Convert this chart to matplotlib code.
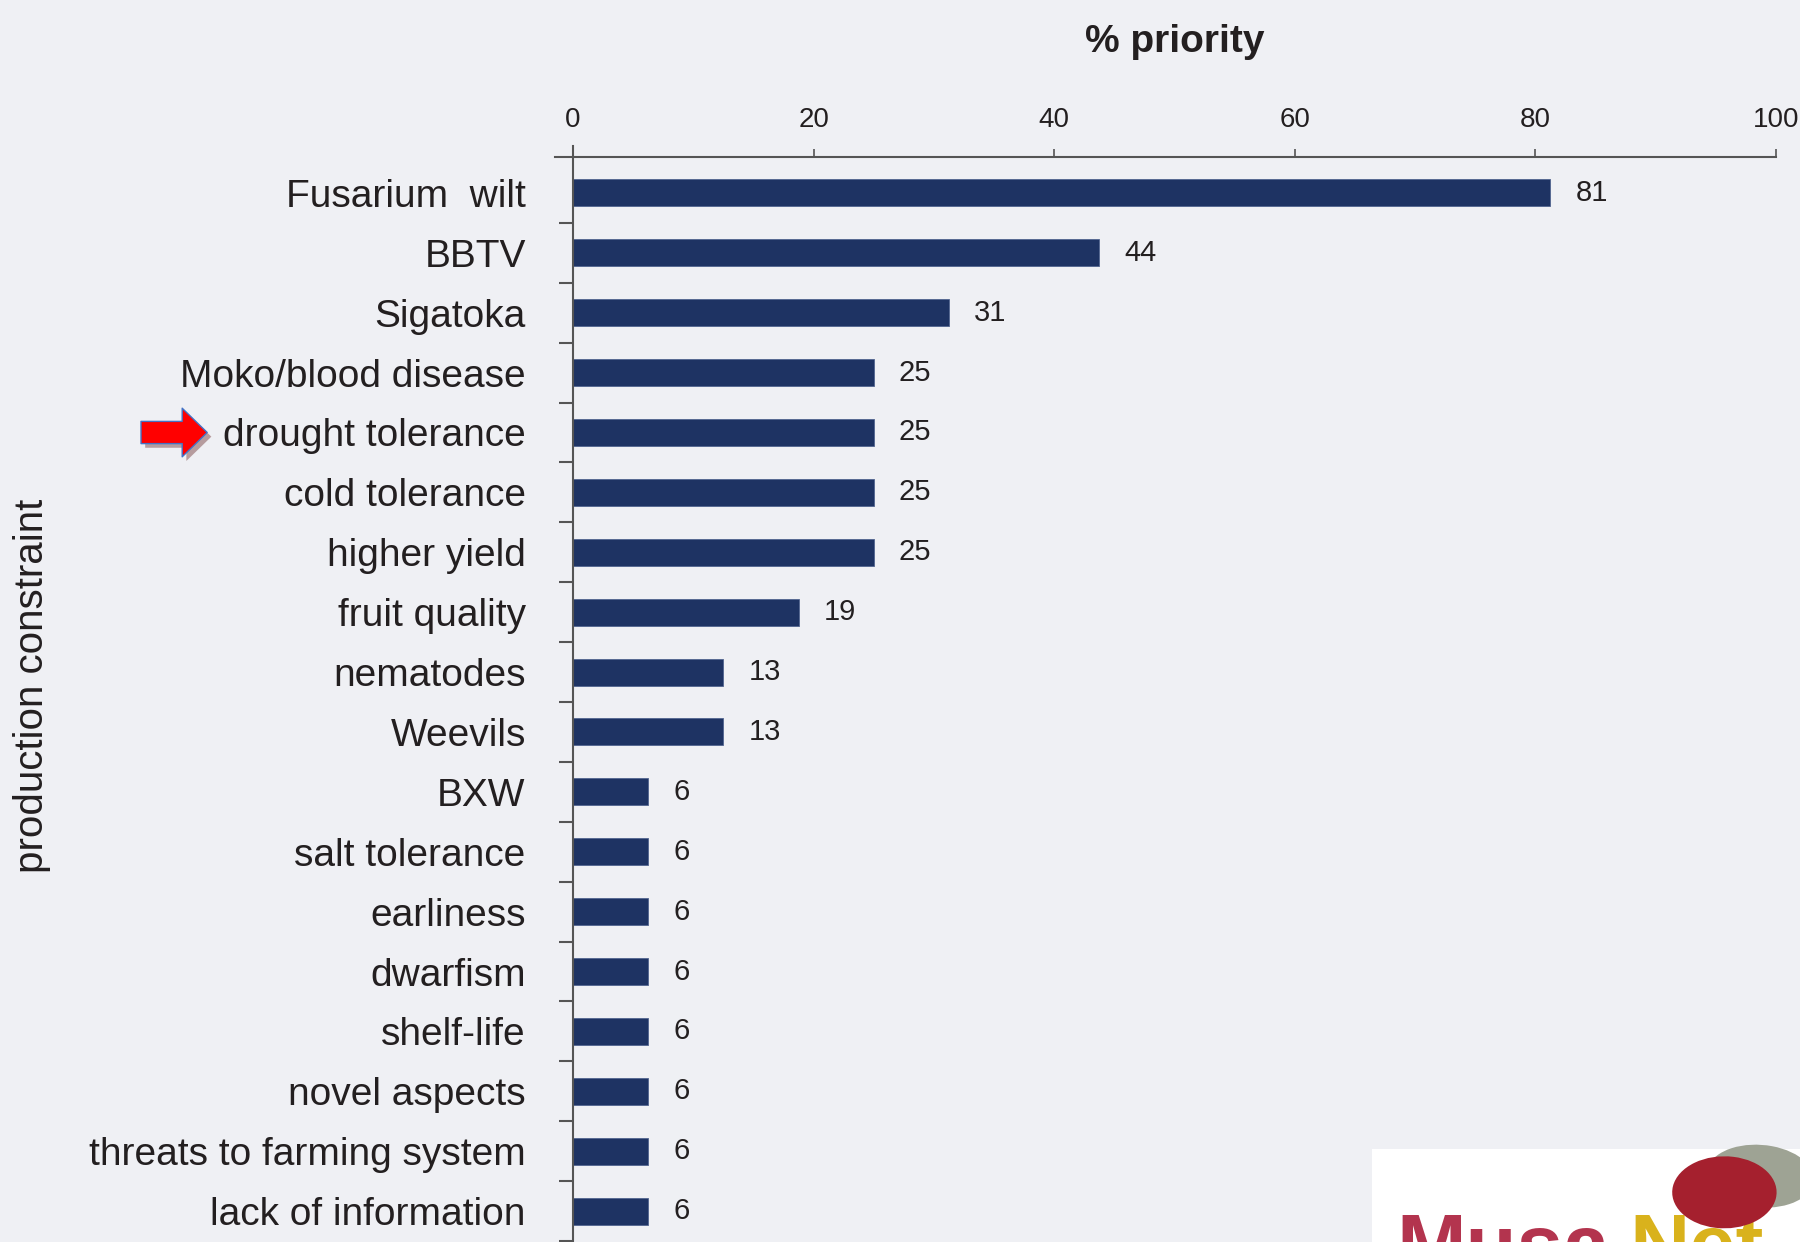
import matplotlib
matplotlib.use('agg')
import matplotlib.pyplot as plt
import matplotlib.patheffects as pe
from matplotlib.patches import Rectangle, Ellipse
from matplotlib.transforms import blended_transform_factory

# Data (bars are multiples of 1/16 respondents)
constraints = ['Fusarium  wilt', 'BBTV', 'Sigatoka', 'Moko/blood disease',
               'drought tolerance', 'cold tolerance', 'higher yield',
               'fruit quality', 'nematodes', 'Weevils', 'BXW',
               'salt tolerance', 'earliness', 'dwarfism', 'shelf-life',
               'novel aspects', 'threats to farming system',
               'lack of information']
priority = [81.25, 43.75, 31.25, 25, 25, 25, 25, 18.75, 12.5, 12.5,
            6.25, 6.25, 6.25, 6.25, 6.25, 6.25, 6.25, 6.25]
value_labels = ['81', '44', '31', '25', '25', '25', '25', '19', '13', '13',
                '6', '6', '6', '6', '6', '6', '6', '6']
x_ticks = [0, 20, 40, 60, 80, 100]
highlight = 'drought tolerance'

bg = '#eff0f4'
bar_color = '#1e3363'
text_color = '#231f20'
spine_color = '#555555'

plt.rcParams['font.family'] = ['Liberation Sans', 'DejaVu Sans']

fig = plt.figure(figsize=(18, 12.42), dpi=100, facecolor=bg)
ax = fig.add_axes([0.3183, -0.0137, 0.6684, 0.8873], facecolor=bg)

pos = list(range(len(constraints)))
bars = ax.barh(pos, priority, height=0.45, color=bar_color,
               edgecolor='#51648f', linewidth=0.6)
ax.bar_label(bars, labels=value_labels, padding=18, fontsize=21,
             color=text_color)

ax.set_xlim(0, 100)
ax.set_ylim(17.8, -0.6)

# top x axis
ax.xaxis.tick_top()
ax.xaxis.set_label_position('top')
ax.set_xticks(x_ticks)
ax.tick_params(axis='x', direction='out', length=6, width=1.2,
               pad=11, labelsize=20, colors=spine_color,
               labelcolor=text_color)
ax.set_xlabel('% priority', fontsize=28, fontweight='bold',
              color=text_color, labelpad=40)

# y axis: labels on bars, ticks between bars
ax.set_yticks(pos)
ax.set_yticklabels(constraints)
ax.tick_params(axis='y', which='major', length=0, pad=34, labelsize=28,
               labelcolor=text_color)
ax.set_yticks([p + 0.5 for p in pos], minor=True)
ax.tick_params(axis='y', which='minor', direction='out', length=10,
               width=1.5, color=spine_color)

for side in ['right', 'bottom']:
    ax.spines[side].set_visible(False)
for side in ['top', 'left']:
    ax.spines[side].set_color(spine_color)
    ax.spines[side].set_linewidth(1.5)
ax.spines['top'].set_bounds(-1.5, 100)
ax.spines['left'].set_bounds(17.8, -0.78)

fig.text(32 / 1800, 1 - 686 / 1242, 'production constraint', rotation=90,
         ha='center', va='center', fontsize=29, color=text_color)

# red arrow pointing at the highlighted constraint
trans = blended_transform_factory(ax.transAxes, ax.transData)
yi = constraints.index(highlight)
ax.annotate('', xy=(-0.304, yi), xycoords=trans,
            xytext=(-0.359, yi), textcoords=trans,
            arrowprops=dict(arrowstyle='simple,head_length=18,head_width=35,tail_width=16',
                            mutation_scale=1, shrinkA=0, shrinkB=0,
                            fc='#ff0000', ec='#4472c4', lw=1,
                            path_effects=[pe.SimplePatchShadow(offset=(3, -3), alpha=0.35),
                                          pe.Normal()]),
            annotation_clip=False)

# MusaNet logo corner (partially cut off, as in the source)
fig.patches.append(Rectangle((0.7622, 0), 0.24, 0.0749, transform=fig.transFigure,
                             facecolor='white', edgecolor='none', zorder=5))
fig.text(0.776, -0.025, 'Musa', fontsize=60, fontweight='bold',
         color='#b3344e', zorder=6)
fig.text(0.905, -0.025, 'Net', fontsize=60, fontweight='bold',
         color='#d9b21c', zorder=6)
fig.patches.append(Ellipse((0.978, 0.053), 0.06, 0.05, angle=-15,
                           transform=fig.transFigure, facecolor='#9ea394',
                           edgecolor='none', zorder=7))
fig.patches.append(Ellipse((0.958, 0.04), 0.058, 0.058, angle=-10,
                           transform=fig.transFigure, facecolor='#a5202e',
                           edgecolor='none', zorder=8))

fig.savefig('out.png', dpi=100, facecolor=bg)
